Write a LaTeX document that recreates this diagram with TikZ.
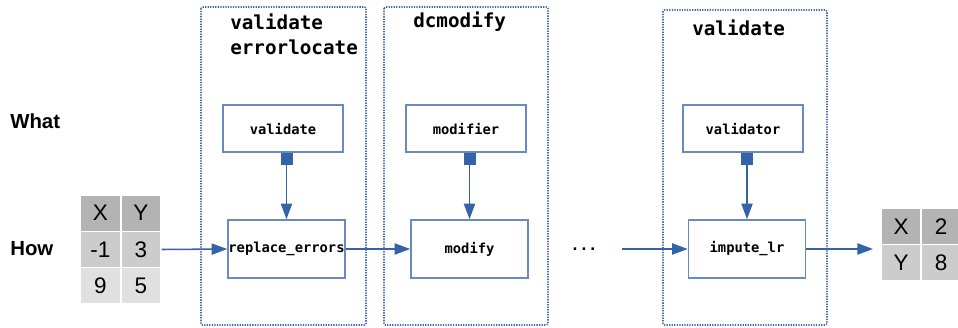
\documentclass[tikz,border=0pt]{standalone}
\usepackage{fontspec}
\setmainfont{Liberation Sans}
\newfontfamily\codefont{DejaVu Sans Mono}
\usetikzlibrary{arrows.meta,positioning}
\definecolor{FlowBlue}{RGB}{52,99,168}
\definecolor{BoxBlue}{RGB}{104,138,194}
\definecolor{FrameBlue}{RGB}{66,106,172}
\definecolor{HeadGray}{RGB}{179,179,179}
\definecolor{MidGray}{RGB}{204,204,204}
\definecolor{LowGray}{RGB}{224,224,224}

\begin{document}
\begin{tikzpicture}[x=0.025cm,y=-0.025cm,
    stage/.style={draw=FrameBlue,line width=1.1pt,
                  dash pattern=on 0.9pt off 0.9pt,rounded corners=1pt},
    title/.style={font=\codefont\bfseries\fontsize{13.7}{17.8}\selectfont,
                  inner sep=0pt,align=left},
    func/.style={draw=BoxBlue,line width=1.1pt,fill=white,inner sep=0pt,
                 font=\codefont\bfseries\fontsize{9.8}{12}\selectfont,
                 minimum width=3cm,minimum height=1.175cm},
    call/.style={func,minimum width=2.925cm,minimum height=1.45cm},
    flow/.style={draw=FlowBlue,line width=1.1pt,
                 -{Triangle[length=0.39cm,width=0.28cm]}},
    feed/.style={draw=FlowBlue,line width=1.1pt,
                 {Square[length=0.3cm,width=0.3cm]}-{Triangle[length=0.39cm,width=0.28cm]}},
    side/.style={font=\bfseries\fontsize{14.5}{17}\selectfont,
                 anchor=west,inner sep=0pt},
    cell/.style={draw=white,line width=1pt,inner sep=0pt,
                 minimum width=1cm,minimum height=0.91cm,
                 font=\fontsize{16}{18}\selectfont}
  ]
  \useasboundingbox (0,0) rectangle (958,328);

  % package frames
  \draw[stage] (201,7) rectangle (366,325);
  \draw[stage] (384,7) rectangle (548,325);
  \draw[stage] (663,10) rectangle (827,325);
  \node[title,anchor=north west] (pkgA) at (230,13.5) {validate\\errorlocate};
  \node[title,anchor=base west] (pkgB) at (413,28) {dcmodify};
  \node[title,anchor=base west] (pkgC) at (692,36) {validate};

  \node[side] (what) at (10,121) {What};
  \node[side] (how) at (10,248.5) {How};

  % rules and the functions using them
  \node[func] (validate) at (283,128.5) {validate};
  \node[func] (modifier) at (466,128.5) {modifier};
  \node[func] (validator) at (743,128.5) {validator};
  \node[call] (replace) at (286.5,249) {replace\_errors};
  \node[call] (modify) at (469.5,249) {modify};
  \node[call] (impute) at (747,249) {impute\_lr};

  \draw[feed] (replace.north |- validate.south) -- (replace.north);
  \draw[feed] (modify.north |- modifier.south) -- (modify.north);
  \draw[feed] (impute.north |- validator.south) -- (impute.north);

  % input data
  \node[cell,fill=HeadGray] (inXh) at (100.5,213.2) {X};
  \node[cell,fill=HeadGray] (inYh) at (141,213.2) {Y};
  \node[cell,fill=MidGray] (inX1) at (100.5,249.5) {-1};
  \node[cell,fill=MidGray] (inY1) at (141,249.5) {3};
  \node[cell,fill=LowGray] (inX2) at (100.5,285.8) {9};
  \node[cell,fill=LowGray] (inY2) at (141,285.8) {5};

  % output data
  \node[cell,fill=HeadGray] (outXk) at (901,226.3) {X};
  \node[cell,fill=HeadGray] (outXv) at (941,226.3) {2};
  \node[cell,fill=MidGray] (outYk) at (901,262.7) {Y};
  \node[cell,fill=MidGray] (outYv) at (941,262.7) {8};

  \node[font=\codefont\bfseries\fontsize{10.5}{12}\selectfont,inner sep=0pt] (dots) at (584,249) {...};
  \coordinate (resume) at (622,249);
  \coordinate (result) at (873,249);

  \draw[flow] (inY1.east) -- (replace.west);
  \draw[flow] (replace.east) -- (modify.west);
  \draw[flow] (resume) -- (impute.west);
  \draw[flow] (impute.east) -- (result);
\end{tikzpicture}
\end{document}
